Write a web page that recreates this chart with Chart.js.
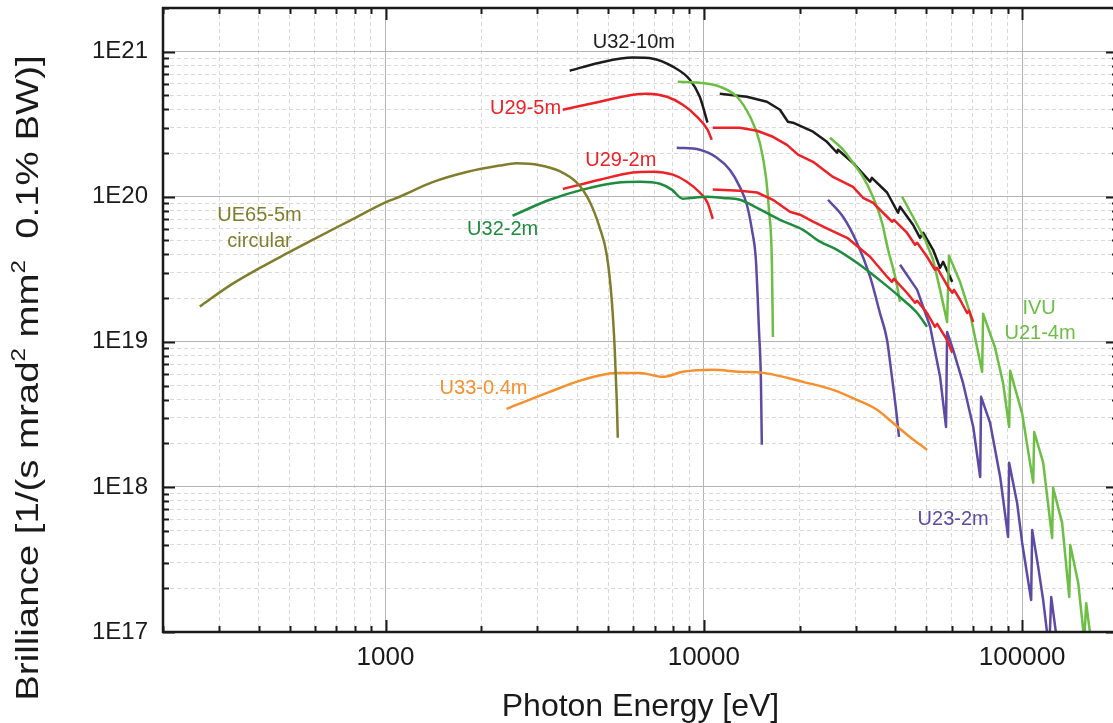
<!DOCTYPE html>
<html>
<head>
<meta charset="utf-8">
<script src="https://cdn.jsdelivr.net/npm/chart.js@4.4.0/dist/chart.umd.min.js"></script>
<style>
html, body { margin: 0; padding: 0; overflow: hidden; background: #fff; }
canvas { display: block; }
</style>
</head>
<body>
<canvas id="brillianceChart" width="1130" height="723"></canvas>
<script>
// [photon energy eV, brilliance]
const UE65_5m = [[261,1.75e19],[323,2.43e19],[402,3.22e19],[488,4.05e19],[590,5.05e19],[771,6.83e19],[1000,9.15e19],[1107,1.0e20],[1406,1.26e20],[1799,1.48e20],[2282,1.64e20],[2582,1.70e20],[3047,1.65e20],[3524,1.50e20],[3990,1.25e20],[4381,9.24e19],[4710,6.11e19],[4955,3.98e19],[5136,1.95e19],[5250,8.8e18],[5326,3.98e18],[5366,2.18e18]];

const U33_04m = [[2400,3.45e18],[3280,4.52e18],[4160,5.47e18],[5330,6.11e18],[6300,6.11e18],[7430,5.74e18],[8590,6.21e18],[10670,6.41e18],[12970,6.21e18],[15340,6.11e18],[20480,5.3e18],[25450,4.67e18],[30270,3.98e18],[35000,3.4e18],[39300,2.76e18],[44400,2.21e18],[50250,1.8e18]];

const U32_2m = [[2506,7.4e19],[3280,9.53e19],[4160,1.12e20],[5330,1.25e20],[6300,1.27e20],[7280,1.23e20],[7930,1.12e20],[8590,9.68e19],[9040,9.8e19],[10270,1.0e20],[11480,9.8e19],[12970,9.53e19],[14690,8.39e19],[17340,6.93e19],[20480,5.92e19],[23180,4.9e19],[26200,4.31e19],[30270,3.51e19],[36560,2.55e19],[42260,1.95e19],[46790,1.58e19],[50250,1.27e19]];

const U29_2m_a = [[3606,1.13e20],[4710,1.31e20],[5985,1.47e20],[6920,1.49e20],[7990,1.42e20],[8840,1.27e20],[9710,1.07e20],[10270,9.1e19],[10670,7.05e19]];
const U29_2m_b = [[10670,1.12e20],[12970,1.10e20],[14690,1.07e20],[16480,9.53e19],[18630,7.89e19],[20050,7.52e19],[22030,6.73e19],[24890,5.92e19],[28190,5.21e19],[33280,3.86e19],[37630,2.81e19],[38990,2.59e19],[39560,2.72e19],[43450,2.18e19],[46070,1.86e19],[46790,1.92e19],[50250,1.58e19],[53230,1.27e19],[54060,1.33e19],[58100,1.03e19],[60300,8.4e18]];

const U29_5m_a = [[3606,3.98e20],[4710,4.52e20],[5985,5.05e20],[6620,5.13e20],[7655,4.89e20],[8590,4.31e20],[9510,3.57e20],[10270,2.9e20],[10590,2.47e20]];
const U29_5m_b = [[10670,2.99e20],[12970,2.99e20],[14690,2.85e20],[16480,2.59e20],[18240,2.28e20],[19760,1.95e20],[22030,1.74e20],[25450,1.37e20],[29420,1.17e20],[31620,9.84e19],[33970,9.1e19],[37630,7.28e19],[38990,6.73e19],[39560,6.93e19],[43450,5.65e19],[46070,4.67e19],[46790,4.82e19],[50250,3.86e19],[53230,3.14e19],[54060,3.24e19],[58500,2.39e19],[60300,2.18e19],[61100,2.28e19],[63800,1.95e19],[67150,1.58e19],[68100,1.64e19],[70200,1.37e19]];

const U32_10m_a = [[3790,7.39e20],[4710,8.4e20],[5985,9.1e20],[6920,8.95e20],[7990,7.88e20],[9040,6.41e20],[9710,4.89e20],[10270,3.24e20]];
const U32_10m_b = [[11220,5.13e20],[13650,4.89e20],[15780,4.52e20],[17340,3.98e20],[18370,3.29e20],[19050,3.24e20],[22030,2.81e20],[24360,2.39e20],[26200,2.01e20],[26390,2.11e20],[29420,1.71e20],[33280,1.27e20],[33720,1.35e20],[37630,1.07e20],[40740,7.76e19],[41340,8.53e19],[45400,6.41e19],[47770,5.21e19],[48860,5.65e19],[52500,4.31e19],[55230,3.24e19],[56440,3.56e19],[60300,2.59e19]];

const U23_2m_a = [[8220,2.18e20],[9710,2.11e20],[10990,1.86e20],[12080,1.53e20],[12970,1.17e20],[13650,8.81e19],[14160,5.92e19],[14570,3.68e19],[14900,1.21e19],[15110,5.47e18],[15210,1.95e18]];
const U23_2m_b = [[24550,9.53e19],[27370,7.28e19],[30270,4.82e19],[33280,2.81e19],[35740,1.58e19],[37630,1.03e19],[38730,6.41e18],[40170,3.4e18],[41030,2.21e18]];
const U23_2m_c = [[41340,3.4e19],[46790,2.28e19],[51400,1.27e19],[55230,5.74e18],[57650,2.59e18],[58100,1.17e19],[60700,8.81e18],[65200,5.21e18],[70200,2.59e18],[73800,1.17e18],[74300,4.18e18],[79300,2.76e18],[85300,1.17e18],[90300,4.52e17],[91000,1.47e18],[96400,7.76e17],[100000,4.11e17],[106700,1.66e17],[107500,5.05e17],[112300,2.81e17],[116400,1.66e17],[121600,7.5e16],[123400,1.74e17],[129800,7.5e16]];

const IVU_U21_a = [[8280,6.21e20],[9710,6.11e20],[11220,5.74e20],[12700,4.89e20],[13960,3.57e20],[15000,2.35e20],[15670,1.37e20],[16010,8.13e19],[16360,3.51e19],[16480,1.08e19]];
const IVU_U21_b = [[24890,2.55e20],[27370,2.11e20],[29420,1.71e20],[31620,1.37e20],[33970,1.0e20],[36290,6.62e19],[37910,4.31e19],[39910,2.81e19],[41340,1.89e19]];
const IVU_U21_c = [[41960,1.0e20],[45400,7.28e19],[49560,5.05e19],[52500,3.68e19],[55230,2.28e19],[58100,1.37e19],[58900,3.92e19],[63800,2.59e19],[68550,1.58e19],[74860,6.21e18],[75400,1.56e19],[82200,9.1e18],[87100,5.21e18],[91000,2.59e18],[91700,6.31e18],[100000,3.2e18],[108300,1.07e18],[109100,2.39e18],[116400,1.47e18],[124200,4.45e17],[125100,9.84e17],[133500,5.65e17],[140600,1.74e17],[141600,3.98e17],[150000,2.18e17],[156700,8.8e16],[158900,1.58e17],[166000,7.5e16]];

// curve names, placed at [energy, brilliance]
const curveLabels = [
    ['U32-10m', 6026, 1.15e21, '#1c1c1c'],
    ['U29-5m', 2754, 4.05e20, '#ec2227'],
    ['U29-2m', 5483, 1.77e20, '#ec2227'],
    ['U32-2m', 2334, 5.92e19, '#1e8c3e'],
    ['UE65-5m', 402, 7.4e19, '#807d2c'],
    ['circular', 402, 4.9e19, '#807d2c'],
    ['U33-0.4m', 2032, 4.74e18, '#f6902e'],
    ['IVU', 113000, 1.69e19, '#6cbe45'],
    ['U21-4m', 113800, 1.14e19, '#6cbe45'],
    ['U23-2m', 60700, 5.92e17, '#5e4aa5']
];

const FONT = '"Liberation Sans", Arial, Helvetica, sans-serif';
const INK = '#1a1a1a';

function isDecade(v) {
    const l = Math.log10(v);
    return Math.abs(l - Math.round(l)) < 1e-9;
}

function logTicks(min, max) {
    const out = [];
    for (let e = Math.floor(Math.log10(min)); e <= Math.ceil(Math.log10(max)); e++) {
        for (let m = 1; m <= 9; m++) {
            const v = m * Math.pow(10, e);
            if (v >= min * 0.9999 && v <= max * 1.0001) out.push({ value: v });
        }
    }
    return out;
}

// smooth curves use monotone splines, harmonic saw-teeth stay sharp
function series(points, color, smooth) {
    return {
        data: points.map(p => ({ x: p[0], y: p[1] })),
        borderColor: color,
        borderWidth: 2.5,
        borderJoinStyle: 'round',
        pointRadius: 0,
        showLine: true,
        fill: false,
        tension: 0,
        cubicInterpolationMode: smooth ? 'monotone' : 'default'
    };
}

const datasets = [
    series(UE65_5m, '#807d2c', true),
    series(U33_04m, '#f6902e', true),
    series(U32_2m, '#1e8c3e', true),
    series(U29_2m_a, '#ec2227', true),
    series(U29_2m_b, '#ec2227', false),
    series(U29_5m_a, '#ec2227', true),
    series(U29_5m_b, '#ec2227', false),
    series(U23_2m_a, '#5e4aa5', true),
    series(U23_2m_b, '#5e4aa5', true),
    series(U23_2m_c, '#5e4aa5', false),
    series(IVU_U21_a, '#6cbe45', true),
    series(IVU_U21_b, '#6cbe45', true),
    series(IVU_U21_c, '#6cbe45', false),
    series(U32_10m_a, '#1c1c1c', true),
    series(U32_10m_b, '#1c1c1c', false)
];

// Frame, inward tick marks, curve names and y title
const decorPlugin = {
    id: 'decor',
    afterDatasetsDraw(chart) {
        const { ctx, chartArea: a, scales: { x, y } } = chart;
        ctx.save();
        ctx.strokeStyle = INK;
        ctx.lineWidth = 2;
        ctx.beginPath();
        x.ticks.forEach(t => {
            const px = Math.round(x.getPixelForValue(t.value)) + 0.5;
            const len = isDecade(t.value) ? 12 : 6;
            ctx.moveTo(px, a.bottom); ctx.lineTo(px, a.bottom - len);
            ctx.moveTo(px, a.top); ctx.lineTo(px, a.top + len);
        });
        y.ticks.forEach(t => {
            const py = Math.round(y.getPixelForValue(t.value)) + 0.5;
            const len = isDecade(t.value) ? 12 : 6;
            ctx.moveTo(a.left, py); ctx.lineTo(a.left + len, py);
            ctx.moveTo(a.right, py); ctx.lineTo(a.right - len, py);
        });
        ctx.stroke();
        ctx.lineWidth = 2.5;
        ctx.strokeRect(a.left, a.top, a.right - a.left, a.bottom - a.top);

        ctx.font = '20px ' + FONT;
        ctx.textAlign = 'center';
        ctx.textBaseline = 'middle';
        curveLabels.forEach(([text, e, b, color]) => {
            ctx.fillStyle = color;
            ctx.fillText(text, x.getPixelForValue(e), y.getPixelForValue(b));
        });
        ctx.restore();
    },
    afterDraw(chart) {
        const ctx = chart.ctx;
        const parts = [['Brilliance [1/(s mrad', false], ['2', true], [' mm', false], ['2', true], ['  0.1% BW)]', false]];
        const big = '32px ' + FONT, small = '20px ' + FONT;
        const stretch = 1.2;
        ctx.save();
        let total = 0;
        parts.forEach(([t, sup]) => { ctx.font = sup ? small : big; total += ctx.measureText(t).width; });
        ctx.translate(38, 378);
        ctx.rotate(-Math.PI / 2);
        ctx.scale(stretch, 1);
        ctx.fillStyle = INK;
        ctx.textAlign = 'left';
        ctx.textBaseline = 'alphabetic';
        let pos = -total / 2;
        parts.forEach(([t, sup]) => {
            ctx.font = sup ? small : big;
            ctx.fillText(t, pos, sup ? -13 : 0);
            pos += ctx.measureText(t).width;
        });
        ctx.restore();
    }
};

const gridColor = ctx => (ctx.tick && isDecade(ctx.tick.value)) ? '#b4b4b4' : '#d9d9d9';
const gridDash = ctx => (ctx.tick && !isDecade(ctx.tick.value)) ? [4, 3] : [];

new Chart(document.getElementById('brillianceChart'), {
    type: 'scatter',
    data: { datasets: datasets },
    plugins: [decorPlugin],
    options: {
        responsive: false,
        animation: false,
        devicePixelRatio: 1,
        layout: { padding: { top: 8, right: 12, left: 0, bottom: 0 } },
        plugins: { legend: { display: false }, tooltip: { enabled: false } },
        scales: {
            x: {
                type: 'logarithmic',
                min: 200,
                max: 200000,
                afterBuildTicks: scale => { scale.ticks = logTicks(200, 200000); },
                afterFit: scale => { scale.height = 91; scale.paddingLeft = 0; scale.paddingRight = 0; },
                grid: { color: gridColor, lineWidth: 1, drawTicks: false },
                border: { display: false, dash: gridDash },
                ticks: {
                    autoSkip: false,
                    maxRotation: 0,
                    padding: 10,
                    color: INK,
                    font: { size: 26, family: FONT },
                    callback: v => (isDecade(v) && v >= 1000) ? String(Math.round(v)) : ''
                },
                title: {
                    display: true,
                    text: 'Photon Energy [eV]',
                    color: INK,
                    font: { size: 32, family: FONT, lineHeight: 1 },
                    padding: { top: 0, bottom: 0 }
                }
            },
            y: {
                type: 'logarithmic',
                min: 1e17,
                max: 2e21,
                afterBuildTicks: scale => { scale.ticks = logTicks(1e17, 2e21); },
                afterFit: scale => { scale.width = 163; scale.paddingTop = 0; scale.paddingBottom = 0; },
                grid: { color: gridColor, lineWidth: 1, drawTicks: false },
                border: { display: false, dash: gridDash },
                ticks: {
                    autoSkip: false,
                    padding: 15,
                    color: INK,
                    font: { size: 24, family: FONT },
                    callback: v => isDecade(v) ? '1E' + Math.round(Math.log10(v)) : ''
                }
            }
        }
    }
});
</script>
</body>
</html>
